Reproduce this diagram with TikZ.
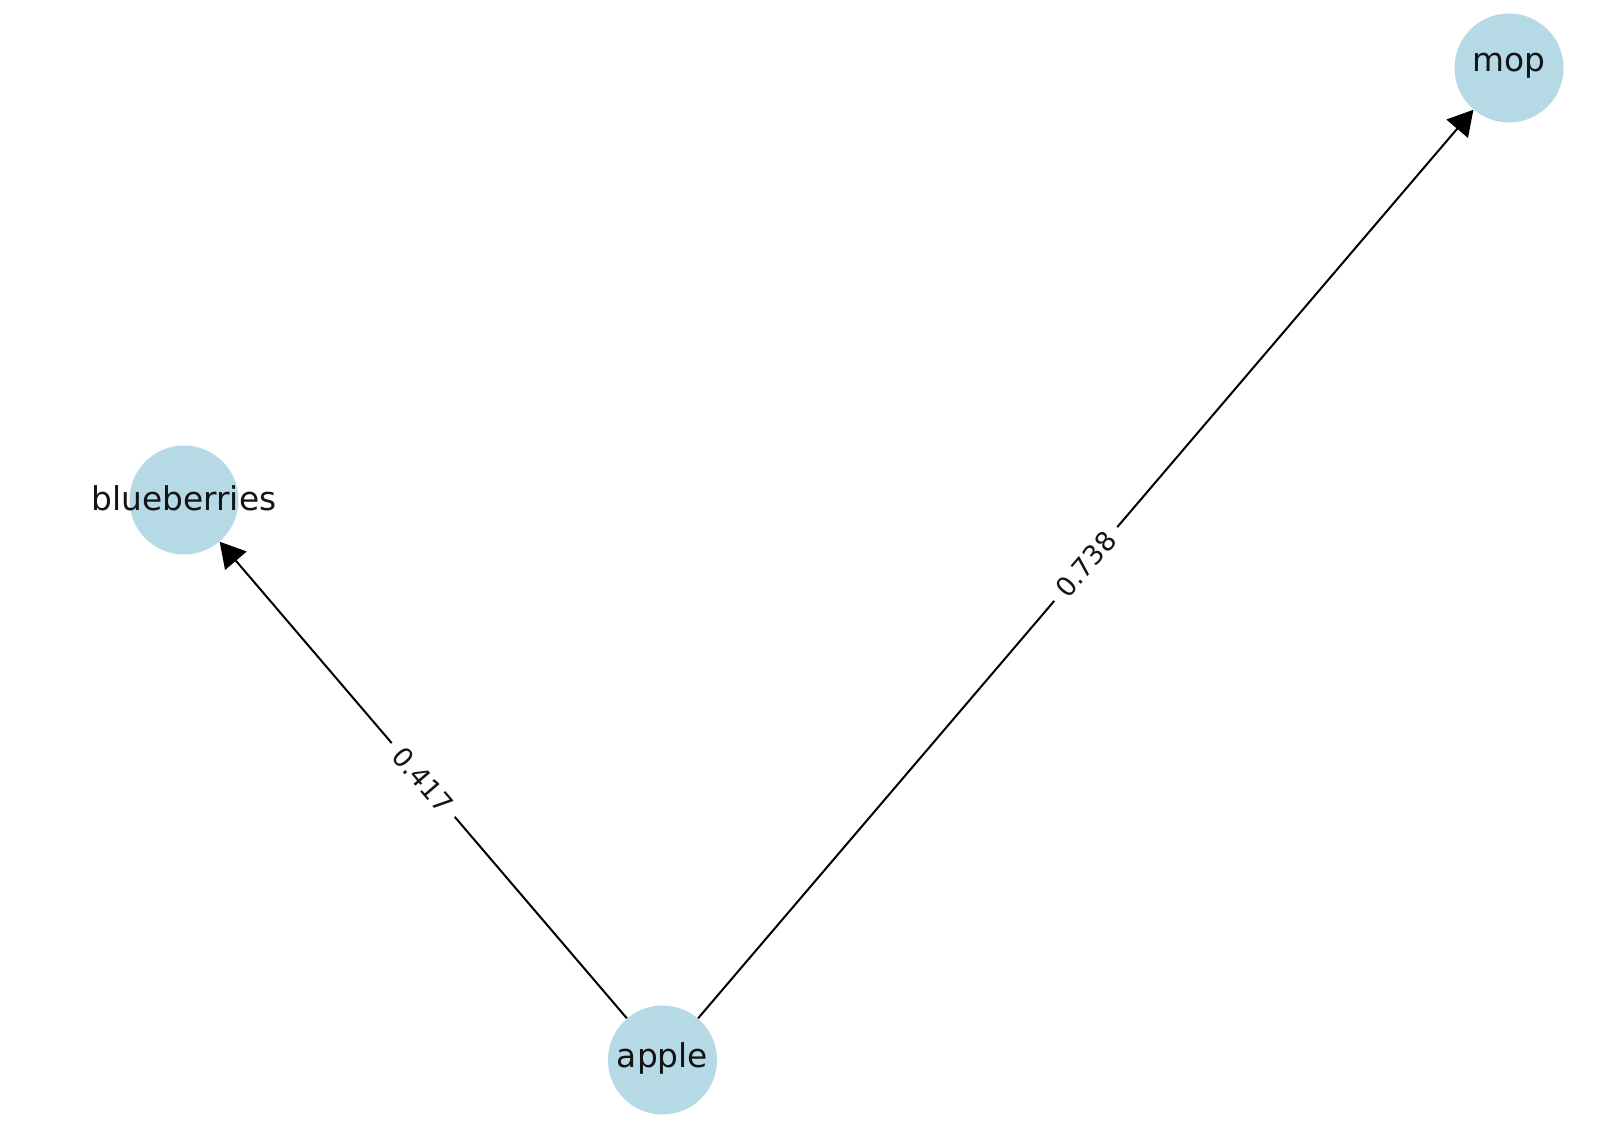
\documentclass[tikz,border=0pt]{standalone}
\usepackage{fontspec}
\setmainfont{DejaVu Sans}
\usetikzlibrary{arrows.meta}
\definecolor{nodeblue}{RGB}{181,217,229}
\definecolor{txt}{RGB}{20,20,20}
\tikzset{
  vertex/.style={circle, fill=nodeblue, minimum size=54.5pt, inner sep=0pt,
    label={[text=txt, font=\fontsize{16.4pt}{19pt}\selectfont, inner sep=0pt, yshift=1pt]center:#1}},
  edge/.style={line width=1pt, black, -{Triangle[length=12.5pt, width=14pt]}},
  wlabel/.style={fill=white, inner sep=5pt, sloped, text=txt, font=\fontsize{13.4pt}{16pt}\selectfont}
}
\begin{document}
\begin{tikzpicture}[x=0.5pt, y=-0.5pt]
\useasboundingbox (0,0) rectangle (1600,1144);
\node[vertex={mop}] (mop) at (1509,68) {};
\node[vertex={blueberries}] (blueberries) at (184,500) {};
\node[vertex={apple}] (apple) at (662.5,1060) {};
\draw[edge] (apple) -- node[wlabel] {0.417} (blueberries);
\draw[edge] (apple) -- node[wlabel] {0.738} (mop);
\end{tikzpicture}
\end{document}
